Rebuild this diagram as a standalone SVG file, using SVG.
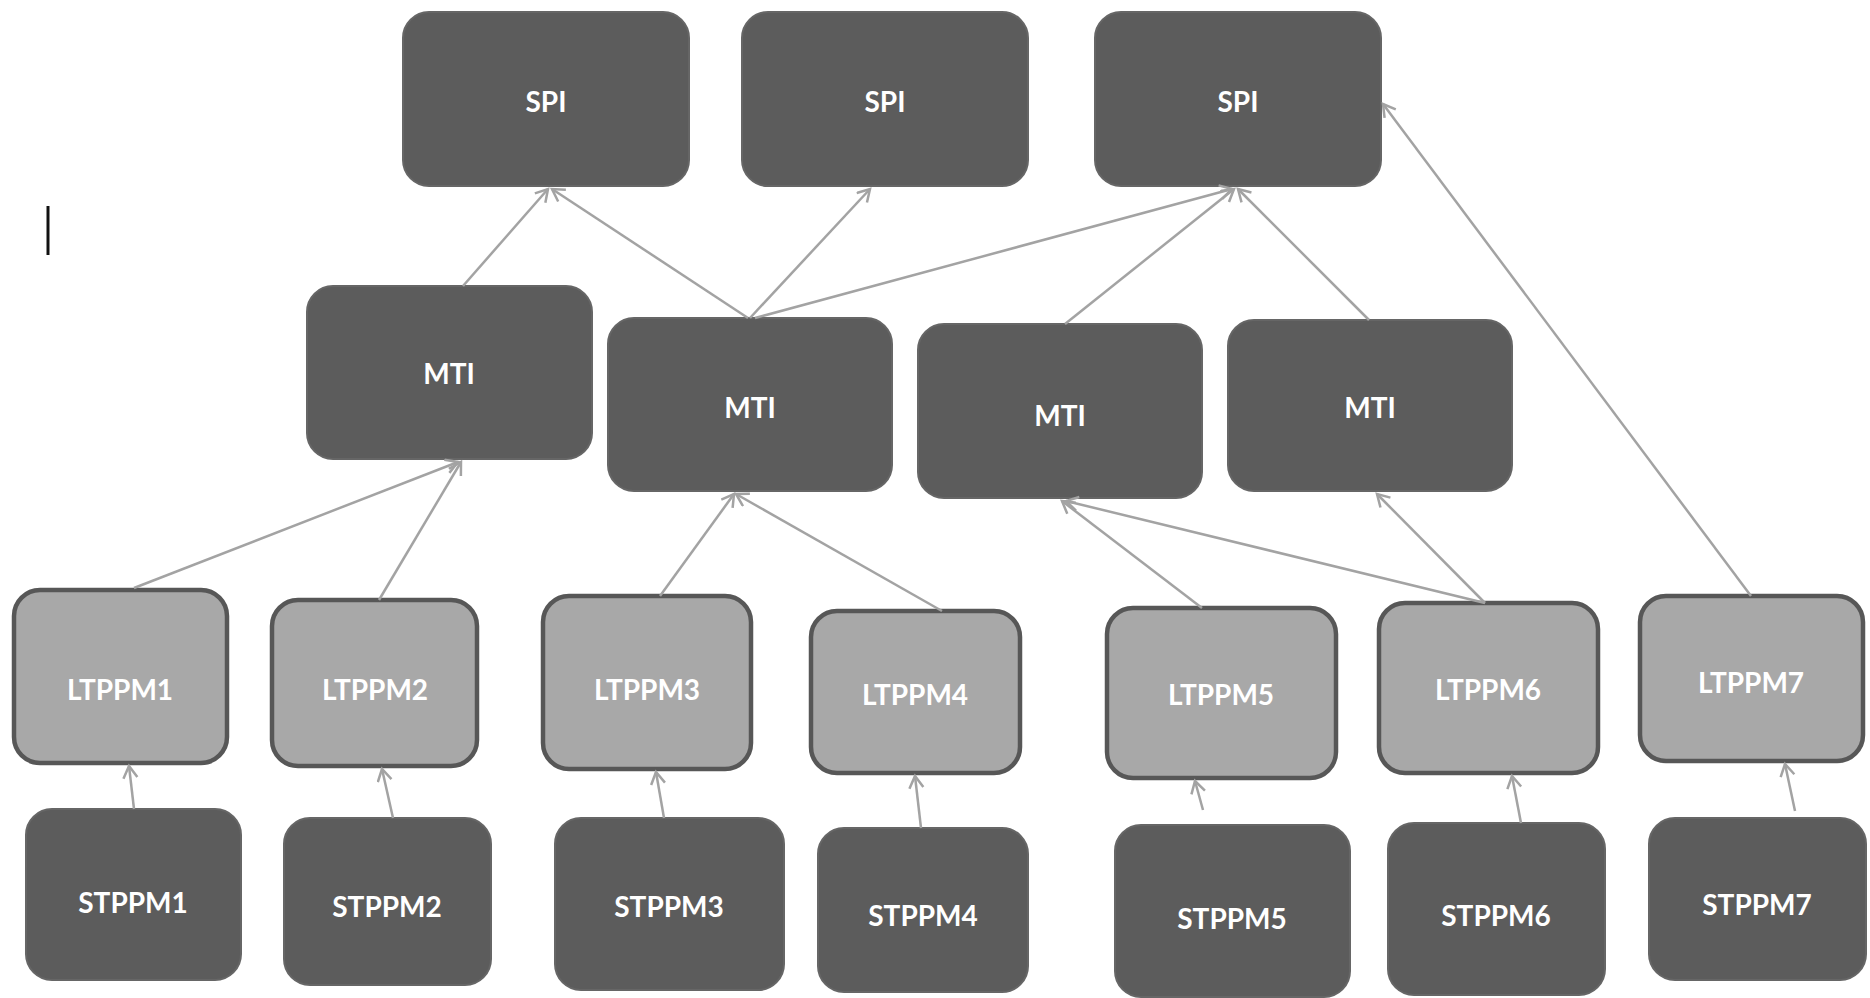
<svg xmlns="http://www.w3.org/2000/svg" width="1870" height="998" viewBox="0 0 1870 998">
<style>
.dark{fill:#5c5c5c;stroke:#666;stroke-width:2}
.light{fill:#a8a8a8;stroke:#575757;stroke-width:4.5}
.t{font-family:Lato,"Open Sans","Liberation Sans",sans-serif;font-weight:bold;font-size:28px;fill:#fff;text-anchor:middle;dominant-baseline:central}
.c{stroke:#a3a3a3;stroke-width:2.5;fill:none;marker-end:url(#ah)}
</style>
<defs>
<marker id="ah" markerUnits="userSpaceOnUse" markerWidth="20" markerHeight="20" refX="14" refY="8" orient="auto">
<path d="M2,1 L14,8 L2,15" fill="none" stroke="#a3a3a3" stroke-width="2.5"/>
</marker>
</defs>
<rect width="1870" height="998" fill="#fff"/>
<line x1="48" y1="206" x2="48" y2="255" stroke="#111" stroke-width="3"/>
<g id="spi1"><rect class="dark" x="403" y="12" width="286" height="174" rx="26"/><text class="t" x="546" y="101">SPI</text></g>
<g id="spi2"><rect class="dark" x="742" y="12" width="286" height="174" rx="26"/><text class="t" x="885" y="101">SPI</text></g>
<g id="spi3"><rect class="dark" x="1095" y="12" width="286" height="174" rx="26"/><text class="t" x="1238" y="101">SPI</text></g>
<g id="mti1"><rect class="dark" x="307" y="286" width="285" height="173" rx="26"/><text class="t" x="449" y="373">MTI</text></g>
<g id="mti2"><rect class="dark" x="608" y="318" width="284" height="173" rx="26"/><text class="t" x="750" y="407">MTI</text></g>
<g id="mti3"><rect class="dark" x="918" y="324" width="284" height="174" rx="26"/><text class="t" x="1060" y="415">MTI</text></g>
<g id="mti4"><rect class="dark" x="1228" y="320" width="284" height="171" rx="26"/><text class="t" x="1370" y="407">MTI</text></g>
<g id="ltppm1"><rect class="light" x="14" y="590" width="213" height="173" rx="26"/><text class="t" x="120" y="689">LTPPM1</text></g>
<g id="ltppm2"><rect class="light" x="272" y="600" width="205" height="166" rx="26"/><text class="t" x="375" y="689">LTPPM2</text></g>
<g id="ltppm3"><rect class="light" x="543" y="596" width="208" height="173" rx="26"/><text class="t" x="647" y="689">LTPPM3</text></g>
<g id="ltppm4"><rect class="light" x="811" y="611" width="209" height="162" rx="26"/><text class="t" x="915" y="694">LTPPM4</text></g>
<g id="ltppm5"><rect class="light" x="1107" y="608" width="229" height="170" rx="26"/><text class="t" x="1221" y="694">LTPPM5</text></g>
<g id="ltppm6"><rect class="light" x="1379" y="603" width="219" height="170" rx="26"/><text class="t" x="1488" y="689">LTPPM6</text></g>
<g id="ltppm7"><rect class="light" x="1640" y="596" width="223" height="165" rx="26"/><text class="t" x="1751" y="682">LTPPM7</text></g>
<g id="stppm1"><rect class="dark" x="26" y="809" width="215" height="171" rx="26"/><text class="t" x="133" y="902">STPPM1</text></g>
<g id="stppm2"><rect class="dark" x="284" y="818" width="207" height="167" rx="26"/><text class="t" x="387" y="906">STPPM2</text></g>
<g id="stppm3"><rect class="dark" x="555" y="818" width="229" height="172" rx="26"/><text class="t" x="669" y="906">STPPM3</text></g>
<g id="stppm4"><rect class="dark" x="818" y="828" width="210" height="164" rx="26"/><text class="t" x="923" y="915">STPPM4</text></g>
<g id="stppm5"><rect class="dark" x="1115" y="825" width="235" height="172" rx="26"/><text class="t" x="1232" y="918">STPPM5</text></g>
<g id="stppm6"><rect class="dark" x="1388" y="823" width="217" height="172" rx="26"/><text class="t" x="1496" y="915">STPPM6</text></g>
<g id="stppm7"><rect class="dark" x="1649" y="818" width="217" height="162" rx="26"/><text class="t" x="1757" y="904">STPPM7</text></g>
<g id="connectors">
<line class="c" x1="463" y1="286" x2="548" y2="189"/>
<line class="c" x1="748" y1="318" x2="552" y2="189"/>
<line class="c" x1="750" y1="318" x2="870" y2="189"/>
<line class="c" x1="755" y1="318" x2="1232" y2="189"/>
<line class="c" x1="1065" y1="324" x2="1234" y2="189"/>
<line class="c" x1="1369" y1="320" x2="1238" y2="189"/>
<line class="c" x1="1751" y1="596" x2="1383" y2="104"/>
<line class="c" x1="134" y1="588" x2="458" y2="462"/>
<line class="c" x1="379" y1="600" x2="461" y2="462"/>
<line class="c" x1="660" y1="596" x2="734" y2="494"/>
<line class="c" x1="942" y1="611" x2="736" y2="494"/>
<line class="c" x1="1202" y1="608" x2="1062" y2="501"/>
<line class="c" x1="1485" y1="603" x2="1066" y2="501"/>
<line class="c" x1="1485" y1="603" x2="1377" y2="494"/>
<line class="c" x1="134" y1="809" x2="129" y2="766"/>
<line class="c" x1="393" y1="818" x2="382" y2="769"/>
<line class="c" x1="664" y1="818" x2="656" y2="772"/>
<line class="c" x1="921" y1="828" x2="915" y2="776"/>
<line class="c" x1="1203" y1="810" x2="1195" y2="781"/>
<line class="c" x1="1521" y1="823" x2="1512" y2="776"/>
<line class="c" x1="1795" y1="811" x2="1785" y2="764"/>
</g>
</svg>
